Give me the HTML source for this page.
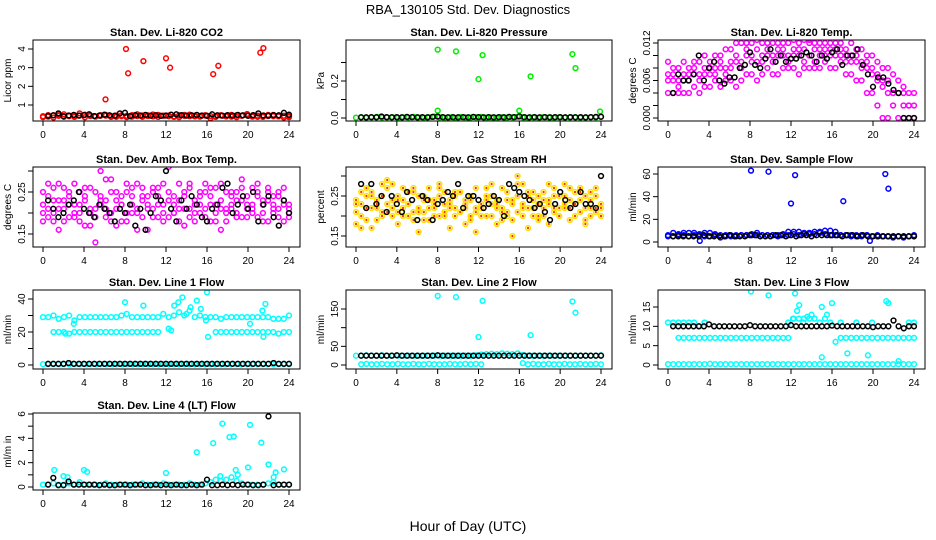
<!DOCTYPE html>
<html><head><meta charset="utf-8"><style>
html,body{margin:0;padding:0;background:#fff;}
svg{display:block;font-family:"Liberation Sans",Arial,sans-serif;}
</style></head><body>
<svg id="chart" width="936" height="540" viewBox="0 0 936 540">
<defs id="defs"></defs>
<text x="468" y="14" text-anchor="middle" font-size="13">RBA_130105  Std. Dev. Diagnostics</text>
<text x="468" y="531" text-anchor="middle" font-size="14">Hour of Day (UTC)</text>
<g id="plots"></g>
</svg>
<script>
// ---------- DATA ----------
const hourTicks = [0,4,8,12,16,20,24];
const blackHours = [0.5,1,1.5,2,2.5,3,3.5,4,4.5,5,5.5,6,6.5,7,7.5,8,8.5,9,9.5,10,10.5,11,11.5,12,12.5,13,13.5,14,14.5,15,15.5,16,16.5,17,17.5,18,18.5,19,19.5,20,20.5,21,21.5,22,22.5,23,23.5,24];
const baseHours = [0,0.51,1.02,1.53,2.04,2.55,3.06,3.57,4.09,4.6,5.11,5.62,6.13,6.64,7.15,7.66,8.17,8.68,9.19,9.7,10.21,10.72,11.23,11.74,12.26,12.77,13.28,13.79,14.3,14.81,15.32,15.83,16.34,16.85,17.36,17.87,18.38,18.89,19.4,19.91,20.43,20.94,21.45,21.96,22.47,22.98,23.49,24];

// P1 CO2
const co2RedA = [0.40,0.38,0.45,0.42,0.50,0.40,0.36,0.44,0.48,0.41,0.39,0.46,0.43,0.40,0.37,0.45,0.42,0.38,0.50,0.44,0.41,0.39,0.47,0.43,0.40,0.36,0.45,0.42,0.48,0.39,0.41,0.44,0.30,0.40,0.46,0.42,0.38,0.45,0.43,0.52,0.40,0.37,0.44,0.41,0.47,0.39,0.42,0.35];
const co2RedB = [0.35,0.46,0.33,0.50,0.37,0.44,0.40,0.55,0.34,0.45,0.38,0.42,0.47,0.36,0.44,0.40,0.35,0.46,0.41,0.37,0.45,0.49,0.36,0.42,0.44,0.39,0.35,0.47,0.40,0.43,0.38,0.46,0.41,0.36,0.44,0.39,0.47,0.35,0.42,0.45,0.38,0.43,0.36,0.47,0.40,0.44,0.33,0.41];
const co2OutHours = [6.1,8.1,8.3,9.8,12.0,12.4,16.6,17.1,21.2,21.5];
const co2OutVals = [1.3,4.0,2.7,3.35,3.5,3.0,2.65,3.1,3.8,4.05];
const co2Black = [0.42,0.45,0.55,0.40,0.44,0.47,0.43,0.46,0.50,0.41,0.44,0.48,0.45,0.43,0.55,0.58,0.40,0.46,0.44,0.47,0.43,0.45,0.42,0.44,0.48,0.50,0.46,0.43,0.45,0.47,0.44,0.42,0.50,0.45,0.43,0.46,0.44,0.47,0.45,0.42,0.46,0.55,0.44,0.43,0.46,0.45,0.58,0.48];

// P2 Pressure
const presGreen = [0.002,0.005,0.001,0.004,0.006,0.002,0.003,0.005,0.001,0.004,0.002,0.006,0.003,0.001,0.005,0.008,0.003,0.002,0.004,0.001,0.005,0.003,0.002,0.004,0.006,0.002,0.003,0.001,0.005,0.002,0.004,0.006,0.003,0.001,0.004,0.002,0.005,0.003,0.001,0.004,0.002,0.003,0.005,0.001,0.002,0.004,0.003,0.006];
const presOutHours = [8.0,9.8,12.0,12.4,8.0,16.0,17.1,21.2,21.5,23.9];
const presOutVals = [0.37,0.36,0.21,0.34,0.04,0.04,0.225,0.345,0.27,0.035];
const presBlack = [0.004,0.004,0.005,0.004,0.008,0.005,0.004,0.005,0.004,0.006,0.005,0.004,0.005,0.004,0.006,0.008,0.005,0.004,0.005,0.004,0.005,0.004,0.006,0.005,0.004,0.005,0.004,0.005,0.004,0.006,0.005,0.009,0.005,0.004,0.005,0.004,0.005,0.004,0.005,0.005,0.004,0.005,0.004,0.005,0.004,0.005,0.006,0.007];

// P3 Temp
const tempMagA = [0.009,0.008,0.008,0.009,0.008,0.009,0.009,0.010,0.009,0.010,0.010,0.011,0.011,0.012,0.012,0.012,0.012,0.0125,0.012,0.012,0.012,0.012,0.012,0.012,0.0125,0.012,0.0125,0.0125,0.012,0.012,0.012,0.012,0.012,0.012,0.011,0.012,0.011,0.011,0.010,0.010,0.009,0.008,0.008,0.007,0.006,0.005,0.004,0.004];
const tempMagB = [0.004,0.004,0.004,0.004,0.004,0.005,0.004,0.005,0.005,0.006,0.005,0.006,0.006,0.005,0.006,0.007,0.007,0.006,0.007,0.008,0.007,0.007,0.008,0.008,0.008,0.007,0.008,0.008,0.008,0.008,0.009,0.008,0.008,0.009,0.007,0.007,0.006,0.006,0.004,0.004,0.002,0.000,0.000,0.002,0.000,0.000,0.000,0.000];
const tempMagC = [0.006,0.007,0.006,0.006,0.007,0.007,0.006,0.008,0.007,0.008,0.008,0.008,0.009,0.009,0.009,0.010,0.010,0.009,0.010,0.010,0.010,0.011,0.010,0.010,0.011,0.010,0.011,0.010,0.011,0.010,0.010,0.011,0.010,0.010,0.009,0.009,0.009,0.008,0.008,0.007,0.006,0.005,0.004,0.004,0.004,0.002,0.002,0.002];
const tempMagD = [0.007,0.006,0.005,0.007,0.006,0.008,0.007,0.007,0.008,0.007,0.009,0.007,0.008,0.010,0.008,0.011,0.009,0.011,0.009,0.011,0.009,0.010,0.011,0.009,0.010,0.011,0.009,0.012,0.009,0.011,0.011,0.010,0.011,0.011,0.010,0.010,0.010,0.009,0.009,0.008,0.007,0.006,0.006,0.004,0.004,0.004,0.002,0.000];
const tempBlack = [0.004,0.007,0.006,0.006,0.007,0.010,0.006,0.008,0.009,0.006,0.0055,0.0065,0.0065,0.008,0.0085,0.0105,0.0085,0.008,0.0095,0.011,0.009,0.010,0.009,0.0095,0.0095,0.010,0.0105,0.010,0.009,0.010,0.0095,0.0105,0.011,0.0085,0.010,0.010,0.011,0.0085,0.007,0.005,0.0065,0.0065,0.0055,0.0045,0.004,0.000,0.000,0.000];

// P4 Amb box temp
const ambMagA = [0.22,0.19,0.26,0.21,0.18,0.24,0.27,0.20,0.23,0.17,0.25,0.22,0.19,0.28,0.21,0.24,0.18,0.26,0.20,0.23,0.16,0.25,0.22,0.27,0.19,0.24,0.21,0.17,0.26,0.23,0.20,0.25,0.18,0.22,0.27,0.21,0.24,0.19,0.26,0.22,0.20,0.25,0.23,0.18,0.24,0.21,0.26,0.20];
const ambMagB = [0.18,0.24,0.20,0.27,0.23,0.19,0.22,0.25,0.17,0.26,0.21,0.24,0.28,0.20,0.23,0.18,0.25,0.22,0.27,0.19,0.24,0.21,0.26,0.18,0.23,0.20,0.27,0.24,0.19,0.22,0.25,0.21,0.26,0.18,0.23,0.20,0.22,0.25,0.19,0.24,0.21,0.27,0.18,0.23,0.20,0.25,0.22,0.19];
const ambMagC = [0.25,0.21,0.23,0.16,0.26,0.22,0.20,0.18,0.24,0.21,0.19,0.30,0.23,0.25,0.17,0.22,0.27,0.20,0.16,0.24,0.21,0.26,0.19,0.22,0.31,0.20,0.23,0.25,0.21,0.18,0.24,0.27,0.22,0.20,0.16,0.25,0.21,0.23,0.28,0.19,0.22,0.24,0.20,0.26,0.22,0.19,0.23,0.21];
const ambMagD = [0.20,0.27,0.18,0.23,0.21,0.25,0.19,0.22,0.26,0.20,0.13,0.23,0.21,0.18,0.25,0.22,0.20,0.24,0.21,0.26,0.22,0.19,0.24,0.20,0.25,0.22,0.18,0.21,0.27,0.20,0.22,0.19,0.24,0.26,0.21,0.18,0.25,0.20,0.23,0.21,0.26,0.19,0.22,0.25,0.21,0.24,0.18,0.22];
const ambBlack = [0.23,0.21,0.19,0.20,0.22,0.23,0.25,0.21,0.20,0.19,0.22,0.21,0.20,0.18,0.21,0.20,0.22,0.17,0.21,0.16,0.20,0.24,0.23,0.30,0.21,0.18,0.23,0.21,0.24,0.22,0.19,0.18,0.21,0.22,0.26,0.27,0.20,0.22,0.24,0.21,0.25,0.18,0.22,0.24,0.19,0.17,0.23,0.20];

// P5 RH
const rhA = [0.24,0.20,0.27,0.22,0.19,0.25,0.23,0.28,0.21,0.24,0.20,0.26,0.22,0.25,0.19,0.23,0.27,0.21,0.24,0.20,0.26,0.22,0.25,0.21,0.23,0.27,0.20,0.24,0.22,0.26,0.19,0.25,0.28,0.22,0.24,0.20,0.26,0.23,0.21,0.25,0.22,0.27,0.20,0.24,0.22,0.26,0.21,0.23];
const rhB = [0.21,0.26,0.19,0.25,0.23,0.21,0.27,0.20,0.24,0.22,0.26,0.19,0.25,0.21,0.27,0.24,0.20,0.26,0.22,0.25,0.21,0.23,0.19,0.27,0.22,0.20,0.25,0.22,0.27,0.20,0.24,0.21,0.23,0.26,0.20,0.25,0.22,0.24,0.27,0.20,0.25,0.22,0.23,0.27,0.19,0.22,0.25,0.20];
const rhC = [0.18,0.23,0.25,0.17,0.22,0.28,0.21,0.24,0.18,0.27,0.23,0.21,0.16,0.24,0.22,0.20,0.25,0.23,0.17,0.22,0.26,0.24,0.20,0.16,0.22,0.25,0.23,0.18,0.21,0.24,0.15,0.28,0.22,0.17,0.26,0.23,0.20,0.18,0.25,0.22,0.28,0.19,0.23,0.26,0.18,0.24,0.22,0.20];
const rhD = [0.23,0.17,0.22,0.26,0.24,0.20,0.29,0.22,0.25,0.20,0.23,0.27,0.21,0.19,0.24,0.22,0.28,0.20,0.23,0.26,0.21,0.18,0.24,0.22,0.20,0.24,0.28,0.23,0.19,0.21,0.23,0.30,0.20,0.25,0.22,0.19,0.24,0.28,0.22,0.20,0.23,0.24,0.26,0.21,0.25,0.20,0.27,0.22];
const rhBlack = [0.28,0.22,0.28,0.23,0.25,0.21,0.25,0.23,0.21,0.26,0.24,0.19,0.25,0.24,0.19,0.23,0.24,0.26,0.25,0.28,0.22,0.25,0.25,0.24,0.22,0.23,0.25,0.24,0.20,0.28,0.27,0.26,0.25,0.24,0.22,0.23,0.21,0.19,0.23,0.26,0.24,0.22,0.23,0.26,0.23,0.23,0.22,0.30];

// P6 Sample flow
const flowBlueA = [5,8,7,6,8,8,7,8,5,7,4,5,6,6,6,6,7,8,6,6,6,6,7,9,9,9,8,8,9,9,10,10,9,6,6,6,6,6,6,5,6,5,5,5,5,5,5,6];
const flowBlueB = [6,5,6,8,5,6,6,5,8,6,6,6,5,5,6,6,6,6,6,6,6,5,6,6,7,6,7,7,7,8,7,6,6,6,6,5,5,5,6,5,5,5,5,4,5,4,5,5];
const flowOutHours = [8.1,9.8,12.0,12.4,17.1,21.2,21.5,3.1,19.7];
const flowOutVals = [63,62,34,59,36,60,47,1,1];
const flowBlack = [5,5,5,5,5,5,6,5,5,5,5,6,5,5,5,6,6,5,5,5,6,6,5,6,5,6,6,5,6,6,6,6,6,5,6,6,5,6,5,5,5,5,5,5,5,5,5,5];

// P7 Line 1
const l1High = [29,29,30,28,29,30,27,29,29,29,29,29,29,29,29,30,31,29,29,29,29,29,29,31,29,30,32,30,33,29,30,29,29,29,28,29,29,29,29,29,29,29,29,29,28,28,28,30];
const l1Mid = [null,null,20,20,20,19,20,20,20,20,20,20,20,20,20,20,20,20,20,20,20,20,20,null,22,null,null,null,null,null,null,null,null,20,20,20,20,20,20,20,20,20,20,20,20,19,20,20];
const l1Low = [0.5,0.5,0.5,0.5,0.5,0.5,0.5,0.5,0.5,0.5,0.5,0.5,0.5,0.5,0.5,0.5,0.5,0.5,0.5,0.5,0.5,0.5,0.5,0.5,0.5,0.5,0.5,0.5,0.5,0.5,0.5,0.5,0.5,0.5,0.5,0.5,0.5,0.5,0.5,0.5,0.5,0.5,0.5,0.5,0.5,0.5,0.5,0.5];
const l1OutHours = [8,9.8,12.5,12.8,13.2,13.6,14.0,14.4,15.0,15.4,15.9,16.1,16.0,20.2,21.5,21.7,21.4,3.0,2.2];
const l1OutVals = [38,36,21,36,38,41,31,35,39,34,27,17,44,25,17,37,33,25,19];
const l1Black = [0.7,0.7,0.7,0.7,1.2,0.7,0.7,0.7,0.7,0.7,0.7,0.7,0.7,0.7,0.7,0.7,0.7,0.7,0.7,0.7,0.7,0.7,0.7,0.7,0.7,0.7,0.7,0.7,0.7,0.7,0.7,0.7,0.7,0.7,0.7,0.7,0.7,0.7,0.7,0.7,0.7,0.7,0.7,0.7,1.2,0.7,0.7,0.7];

// P8 Line 2
const l2High = [25,25,26,25,25,26,25,25,25,25,25,25,25,25,25,25,25,25,25,25,25,25,25,26,28,29,30,29,31,30,29,31,27,25,25,25,25,25,25,25,25,25,25,25,25,25,25,26];
const l2Low = [null,2,3,2,2,3,2,2,3,2,2,3,2,2,3,2,2,2,3,2,2,3,2,3,2,null,null,null,null,null,null,null,5,2,3,2,2,3,2,2,3,2,2,3,2,2,3,2];
const l2OutHours = [8.0,9.8,12.0,12.4,17.1,21.2,21.5];
const l2OutVals = [185,182,75,172,80,170,140];
const l2Black = [25,25,25,25,25,25,25,26,25,25,25,25,25,25,25,26,25,25,25,25,25,25,25,25,25,25,25,25,25,25,25,25,25,25,25,25,25,25,25,25,25,25,25,25,25,25,25,25];

// P9 Line 3
const l3High = [11,11,11,11,11,11,10,11,null,null,null,null,null,null,null,null,null,null,null,null,null,null,null,11,12,12,12,12,12,11,12,11,null,11,null,null,11,null,null,11,null,null,null,null,null,null,11,11];
const l3Mid = [null,null,7,7,7,7,7,7,7,7,7,7,7,7,7,7,7,7,7,7,7,7,7,7,null,null,null,null,null,null,null,null,6,7,7,7,7,7,7,7,7,7,7,7,7,7,7,7];
const l3Low = [0.2,0.2,0.2,0.2,0.2,0.2,0.2,0.2,0.3,0.2,0.2,0.2,0.2,0.2,0.2,0.2,0.2,0.2,0.2,0.2,0.2,0.2,0.2,0.2,0.2,0.2,0.2,0.2,0.2,0.2,0.2,0.2,0.2,0.2,0.2,0.2,0.2,0.2,0.2,0.2,0.2,0.2,0.2,0.2,0.2,0.2,0.2,0.2];
const l3OutHours = [8.1,9.8,12.4,12.6,12.8,13.6,14.0,15.0,15.5,16.0,17.5,19.5,21.3,21.5,22.5,15.0,12.2,13.2];
const l3OutVals = [19,18,18.5,14,15.5,12.5,13,15,13,16,3,2.5,16.5,16,1,2,12,11];
const l3Black = [10,10,10,10,10,10,10,10.5,10,10,10,10,10,10,10,10.3,10,10,10,10,10,10,10,10.3,10,10,10,10,10,10,10,10.2,10,10,10,10,10,10,10,9.8,10,10,10,11.5,10,9.5,10,10];

// P10 Line 4
const l4Base = [0.2,0.2,0.3,0.2,0.2,0.3,0.2,0.4,0.2,0.2,0.2,0.2,0.3,0.2,0.2,0.2,0.2,0.2,0.2,0.3,0.2,0.2,0.2,0.3,0.2,0.2,0.2,0.2,0.3,0.2,0.2,0.3,0.4,0.6,0.5,0.6,0.8,0.5,0.3,0.2,0.2,0.2,0.2,0.3,0.4,0.2,0.2,0.2];
const l4OutHours = [1.1,2.0,2.4,4.0,4.3,12.0,15.0,16.6,17.5,17.3,18.2,18.6,18.8,19.0,20.0,20.2,21.3,22.0,22.5,22.7,23.5];
const l4OutVals = [1.4,0.9,0.8,1.4,1.25,1.15,2.85,3.6,5.2,0.9,4.1,4.15,1.4,1.0,1.6,5.1,3.65,1.85,0.8,1.2,1.45];
const l4Black = [0.2,0.75,0.15,0.15,0.45,0.2,0.2,0.2,0.2,0.2,0.15,0.2,0.15,0.15,0.2,0.2,0.15,0.2,0.2,0.15,0.15,0.2,0.15,0.2,0.15,0.2,0.15,0.15,0.2,0.15,0.2,0.6,0.15,0.15,0.2,0.15,0.2,0.15,0.2,0.2,0.15,0.15,0.2,5.8,0.15,0.2,0.2,0.2];

// ---------- LAYOUT ----------
const colX0 = [43,356,668], colX24 = [289,601,914];
const rowTop = [40,167,290,413], rowBot = [121,247,369,490];
const SVGNS = "http://www.w3.org/2000/svg";
const root = document.getElementById('plots');
const defs = document.getElementById('defs');

const MAG="#ff00ff", CY="#00ffff";
const panels = [
 {name:"co2",title:"Stan. Dev. Li-820 CO2",ylab:"Licor ppm",c:0,r:0,ref:[4,49,1,105],ticks:[1,2,3,4],labels:["1","2","3","4"],
  series:[[baseHours,co2RedA,"#ff0000"],[baseHours,co2RedB,"#ff0000"],[co2OutHours,co2OutVals,"#ff0000"],[blackHours,co2Black,"#000"]]},
 {name:"pressure",title:"Stan. Dev. Li-820 Pressure",ylab:"kPa",c:1,r:0,ref:[0.2,81,0,118],ticks:[0,0.1,0.2,0.3],labels:["0.0","","0.2",""],
  series:[[baseHours,presGreen,"#00ee00"],[presOutHours,presOutVals,"#00ee00"],[blackHours,presBlack,"#000"]]},
 {name:"temp",title:"Stan. Dev. Li-820 Temp.",ylab:"degrees C",c:2,r:0,ref:[0.012,43,0,118],ticks:[0,0.002,0.004,0.006,0.008,0.010,0.012],labels:["0.000","","","0.006","","","0.012"],
  series:[[baseHours,tempMagA,MAG],[baseHours,tempMagB,MAG],[baseHours,tempMagC,MAG],[baseHours,tempMagD,MAG],[blackHours,tempBlack,"#000"]]},
 {name:"amb-temp",title:"Stan. Dev. Amb. Box Temp.",ylab:"degrees C",c:0,r:1,ref:[0.25,192,0.15,234],ticks:[0.15,0.2,0.25,0.3],labels:["0.15","","0.25",""],
  series:[[baseHours,ambMagA,MAG],[baseHours,ambMagB,MAG],[baseHours,ambMagC,MAG],[baseHours,ambMagD,MAG],[blackHours,ambBlack,"#000"]]},
 {name:"rh",title:"Stan. Dev. Gas Stream RH",ylab:"percent",c:1,r:1,ref:[0.25,196,0.15,236],ticks:[0.15,0.2,0.25,0.3],labels:["0.15","","0.25",""],
  series:[[baseHours,rhA,"#ffe000","dot"],[baseHours,rhB,"#ffe000","dot"],[baseHours,rhC,"#ffe000","dot"],[baseHours,rhD,"#ffe000","dot"],[blackHours,rhBlack,"#000"]]},
 {name:"sample-flow",title:"Stan. Dev. Sample Flow",ylab:"ml/min",c:2,r:1,ref:[60,174,0,242],ticks:[0,20,40,60],labels:["0","20","40","60"],
  series:[[baseHours,flowBlueA,"#0000ff"],[baseHours,flowBlueB,"#0000ff"],[flowOutHours,flowOutVals,"#0000ff"],[blackHours,flowBlack,"#000"]]},
 {name:"line1-flow",title:"Stan. Dev. Line 1 Flow",ylab:"ml/min",c:0,r:2,ref:[40,299,0,365],ticks:[0,10,20,30,40],labels:["0","","20","","40"],
  series:[[baseHours,l1High,CY],[baseHours,l1Mid,CY],[baseHours,l1Low,CY],[l1OutHours,l1OutVals,CY],[blackHours,l1Black,"#000"]]},
 {name:"line2-flow",title:"Stan. Dev. Line 2 Flow",ylab:"ml/min",c:1,r:2,ref:[150,309,0,365],ticks:[0,50,100,150],labels:["0","50","","150"],
  series:[[baseHours,l2High,CY],[baseHours,l2Low,CY],[l2OutHours,l2OutVals,CY],[blackHours,l2Black,"#000"]]},
 {name:"line3-flow",title:"Stan. Dev. Line 3 Flow",ylab:"ml/min",c:2,r:2,ref:[15,307,0,365],ticks:[0,5,10,15],labels:["0","5","10","15"],
  series:[[baseHours,l3High,CY],[baseHours,l3Mid,CY],[baseHours,l3Low,CY],[l3OutHours,l3OutVals,CY],[blackHours,l3Black,"#000"]]},
 {name:"line4-flow",title:"Stan. Dev. Line 4 (LT) Flow",ylab:"ml/m in",c:0,r:3,ref:[6,414,0,487],ticks:[0,1,2,3,4,5,6],labels:["0","","2","","4","","6"],
  series:[[baseHours,l4Base,CY],[l4OutHours,l4OutVals,CY],[blackHours,l4Black,"#000"]]}
];

function mk(tag, attrs, parent){const e=document.createElementNS(SVGNS,tag);for(const k in attrs)e.setAttribute(k,attrs[k]);parent.appendChild(e);return e;}

panels.forEach((p,pi)=>{
  const x0=colX0[p.c], x24=colX24[p.c];
  const L=x0-10, R=x24+11, T=rowTop[p.r], B=rowBot[p.r];
  const xs=h=>x0+(x24-x0)*h/24;
  const [v1,p1,v2,p2]=p.ref;
  const ys=v=>p2+(v-v2)*(p1-p2)/(v1-v2);
  const cp=mk('clipPath',{id:'clip'+pi},defs);
  mk('rect',{x:L,y:T,width:R-L,height:B-T},cp);
  const g=mk('g',{},root);
  
  
  const t=mk('text',{x:(L+R)/2,y:T-4,'text-anchor':'middle','font-size':'11','font-weight':'bold'},g);
  t.textContent=p.title;
  
  
  const yl=mk('text',{x:0,y:0,'text-anchor':'middle','font-size':'10',transform:`translate(${L-22},${(T+B)/2}) rotate(-90)`},g);
  yl.textContent=p.ylab;
  
  
  const pts=mk('g',{fill:'none','stroke-width':'1.5','clip-path':`url(#clip${pi})`},g);
  
  
  p.series.forEach(s=>{
    const [hs,vs,col,extra]=s;
    vs.forEach((v,i)=>{
      if(v===null||v===undefined) return;
      const cx=xs(hs[i]).toFixed(1), cy=ys(v).toFixed(1);
      const c=mk('circle',{cx:cx,cy:cy,r:2.4,stroke:col,fill:'none'},pts);
      
      
      if(extra==='dot'){
        mk('circle',{cx:cx,cy:cy,r:1.1,fill:'#ff2a00',stroke:'none'},pts);
      }
    });
  });
  const bx=mk('rect',{x:L,y:T,width:R-L,height:B-T,fill:'none',stroke:'#000','stroke-width':'1'},g);
  
  
  const xa=mk('g',{},g);
  
  
  hourTicks.forEach(h=>{
    mk('line',{x1:xs(h),x2:xs(h),y1:B,y2:B+5,stroke:'#000'},xa);
    const tl=mk('text',{x:xs(h),y:B+17,'text-anchor':'middle','font-size':'10'},xa);
    tl.textContent=String(h);
    
    
  });
  const ya=mk('g',{},g);
  
  
  p.ticks.forEach((v,i)=>{
    mk('line',{x1:L-5,x2:L,y1:ys(v),y2:ys(v),stroke:'#000'},ya);
    if(p.labels[i]){
      const tl=mk('text',{x:0,y:0,'text-anchor':'middle','font-size':'10',transform:`translate(${L-8},${ys(v)}) rotate(-90)`},ya);
      tl.textContent=p.labels[i];
      
      
    }
  });
});
</script>
</body></html>
